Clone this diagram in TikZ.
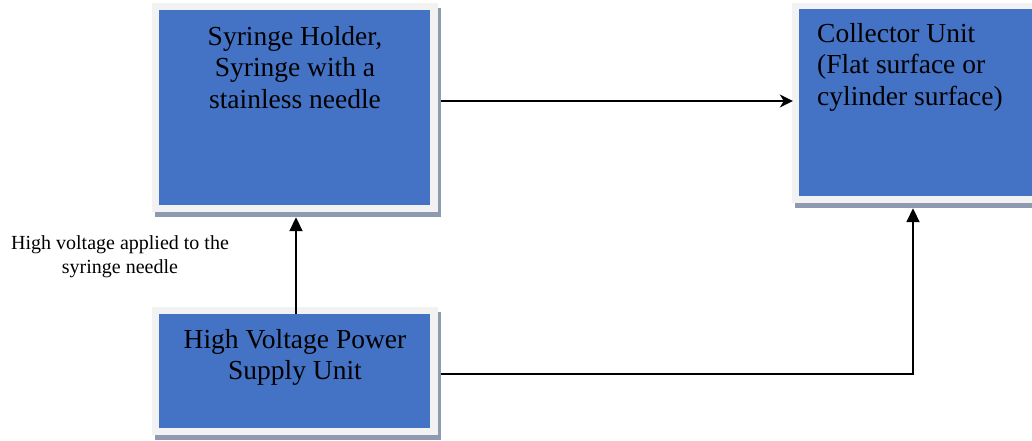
\documentclass[tikz,border=0pt]{standalone}
\usepackage{fontspec}
\setmainfont{Liberation Serif}
\usetikzlibrary{arrows.meta,shadows}
\definecolor{panelblue}{HTML}{4472C4}
\definecolor{framegray}{HTML}{F2F2F2}
\definecolor{shadowgray}{HTML}{8E9AB0}
\tikzset{
	frame/.style={fill=framegray, inner sep=0pt,
		drop shadow={shadow xshift=3pt, shadow yshift=-5pt, fill=shadowgray, opacity=1}},
	panel/.style={fill=panelblue, inner sep=0pt},
	boxtext/.style={inner sep=0pt, font=\fontsize{27.5}{31.7}\selectfont},
	conn/.style={line width=1.8pt}
}
\begin{document}
\begin{tikzpicture}[x=1pt, y=-1pt, line join=miter]
	\def\tip{Triangle[length=14pt,width=13pt]} % tip for the vertical arrows
	\useasboundingbox (0,0) rectangle (1032,440);
	\clip (0,0) rectangle (1032,440);
	% boxes
	\node[frame, minimum width=286pt, minimum height=209pt] (syrF) at (295,107.5) {};
	\node[panel, minimum width=271pt, minimum height=195pt] (syr) at (294.5,107.5) {};
	\node[frame, minimum width=250pt, minimum height=200pt] (colF) at (917,103) {};
	\node[panel, minimum width=240pt, minimum height=187pt] (col) at (919,102.5) {};
	\node[frame, minimum width=286pt, minimum height=128pt] (hvF) at (295,371) {};
	\node[panel, minimum width=271pt, minimum height=114pt] (hv) at (294.5,371) {};
	% texts
	\node[boxtext, align=center, anchor=north] (syrT) at (295,26) {Syringe Holder,\\Syringe with a\\stainless needle};
	\node[boxtext, align=left, anchor=north west] (colT) at (817,23) {Collector Unit\\(Flat surface or\\cylinder surface)};
	\node[boxtext, align=center, anchor=north] (hvT) at (295,329) {High Voltage Power\\Supply Unit};
	\node[inner sep=0pt, align=center, anchor=north, font=\fontsize{20}{24}\selectfont] (lbl) at (120,235) {High voltage applied to the\\syringe needle};
	% connectors
	\draw[conn, -{Stealth[length=13pt,width=13pt,inset=4pt]}, shorten <=11pt, shorten >=6pt] (syr.east |- 0,101) -- (col.west |- 0,101);
	\draw[conn, -{\tip}, shorten >=12pt] (hv.north -| 296,0) -- (syr.south -| 296,0);
	\draw[conn, -{\tip}, shorten <=11pt, shorten >=12pt] (hv.east |- 0,374) -| (col.south -| 913,0);
\end{tikzpicture}
\end{document}
